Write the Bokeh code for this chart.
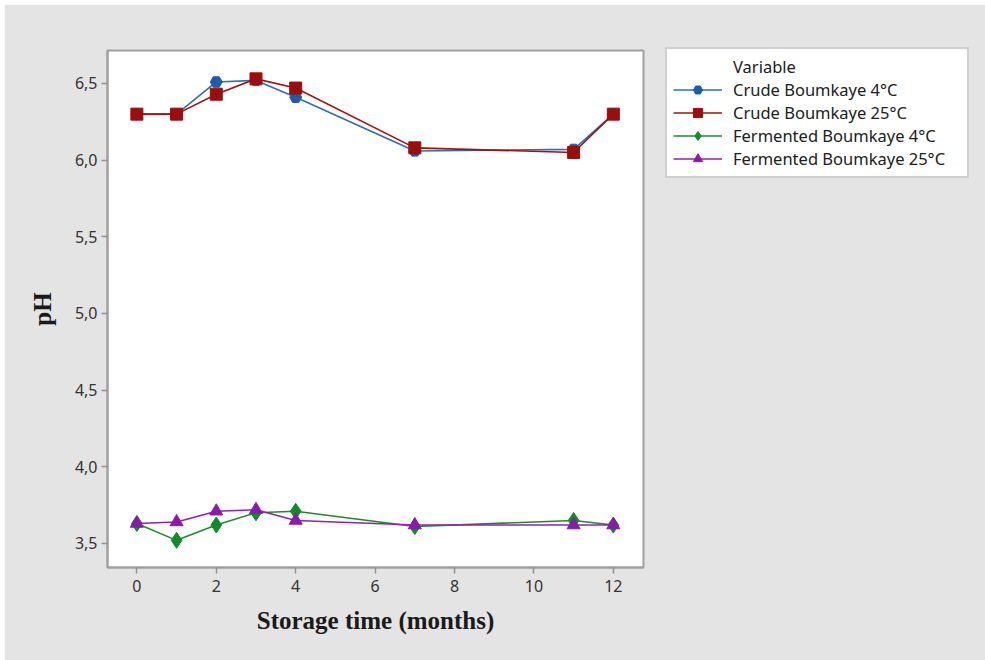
from bokeh.plotting import figure
from bokeh.models import (Range1d, FixedTicker, CustomJSTickFormatter, Legend, LegendItem,
                          ColumnDataSource)
from bokeh.embed import file_html
from bokeh.resources import INLINE

# ---- data ----
months = [0, 1, 2, 3, 4, 7, 11, 12]
crude_4 = [6.30, 6.30, 6.51, 6.52, 6.41, 6.06, 6.07, 6.30]
crude_25 = [6.30, 6.30, 6.43, 6.53, 6.47, 6.08, 6.05, 6.30]
ferm_4 = [3.63, 3.52, 3.62, 3.70, 3.71, 3.61, 3.65, 3.62]
ferm_25 = [3.63, 3.64, 3.71, 3.72, 3.65, 3.62, 3.62, 3.62]
series_names = ["Crude Boumkaye 4°C", "Crude Boumkaye 25°C",
                "Fermented Boumkaye 4°C", "Fermented Boumkaye 25°C"]
x_ticks = [0, 2, 4, 6, 8, 10, 12]
y_ticks = [3.5, 4.0, 4.5, 5.0, 5.5, 6.0, 6.5]

series = [crude_4, crude_25, ferm_4, ferm_25]
line_colors = ["#2F6FAE", "#9A1414", "#1E8A30", "#8E24AA"]
fill_colors = ["#1C5CA8", "#9A0E0E", "#128A2A", "#8A1AAA"]
markers = ["hex", "square", "diamond", "triangle"]
sizes = [12, 12, 16, 13]

GRAY = "#E4E4E4"

p = figure(width=981, height=656, margin=(4, 0, 0, 4),
           frame_width=536, frame_height=517,
           min_border_left=103, min_border_right=342,
           min_border_top=46, min_border_bottom=93,
           x_range=Range1d(-0.74, 12.76), y_range=Range1d(3.343, 6.715),
           output_backend="svg", toolbar_location=None,
           background_fill_color="white", border_fill_color=GRAY)

p.grid.visible = False
p.outline_line_color = "#A0A0A0"
p.outline_line_width = 2

for ax in (p.xaxis[0], p.yaxis[0]):
    ax.axis_line_color = "#A0A0A0"
    ax.axis_line_width = 2
    ax.major_tick_line_color = "#909090"
    ax.major_tick_line_width = 1.5
    ax.major_tick_out = 6
    ax.major_tick_in = 0
    ax.minor_tick_line_color = None
    ax.major_label_text_font = "Noto Sans"
    ax.major_label_text_font_size = "16px"
    ax.major_label_text_color = "#333333"
    ax.axis_label_text_font = "Liberation Serif"
    ax.axis_label_text_font_style = "bold"
    ax.axis_label_text_font_size = "25px"
    ax.axis_label_text_color = "#1A1A1A"

p.xaxis.ticker = FixedTicker(ticks=x_ticks)
p.yaxis.ticker = FixedTicker(ticks=y_ticks)
p.yaxis.formatter = CustomJSTickFormatter(code="return tick.toFixed(1).replace('.', ',');")
p.xaxis.axis_label = "Storage time (months)"
p.yaxis.axis_label = "pH"
p.xaxis.major_label_standoff = 6
p.yaxis.major_label_standoff = 4
p.xaxis.axis_label_standoff = 12
p.yaxis.axis_label_standoff = 16

items = []
dummy = p.line(x=[], y=[], line_alpha=0)
items.append(LegendItem(label="Variable", renderers=[dummy]))
for vals, name, lc, fc, mk, sz in zip(series, series_names, line_colors, fill_colors, markers, sizes):
    src = ColumnDataSource(dict(x=months, y=vals))
    ln = p.line("x", "y", source=src, line_color=lc, line_width=1.6)
    sc = p.scatter("x", "y", source=src, marker=mk, size=sz, fill_color=fc, line_color=fc)
    items.append(LegendItem(label=name, renderers=[ln, sc]))

legend = Legend(items=items)
legend.margin = 0
legend.padding = 6
legend.spacing = 0
legend.glyph_width = 49
legend.glyph_height = 23
legend.label_height = 23
legend.label_width = 228
legend.label_standoff = 11
legend.label_text_font = "Noto Sans"
legend.label_text_font_size = "16.5px"
legend.label_text_color = "#202020"
legend.border_line_color = "#A0A0A0"
legend.border_line_width = 2
legend.background_fill_color = "white"
legend.background_fill_alpha = 1
p.add_layout(legend, "right")
legend.location = (22, 389)

open("out.html", "w").write(file_html(p, INLINE))
